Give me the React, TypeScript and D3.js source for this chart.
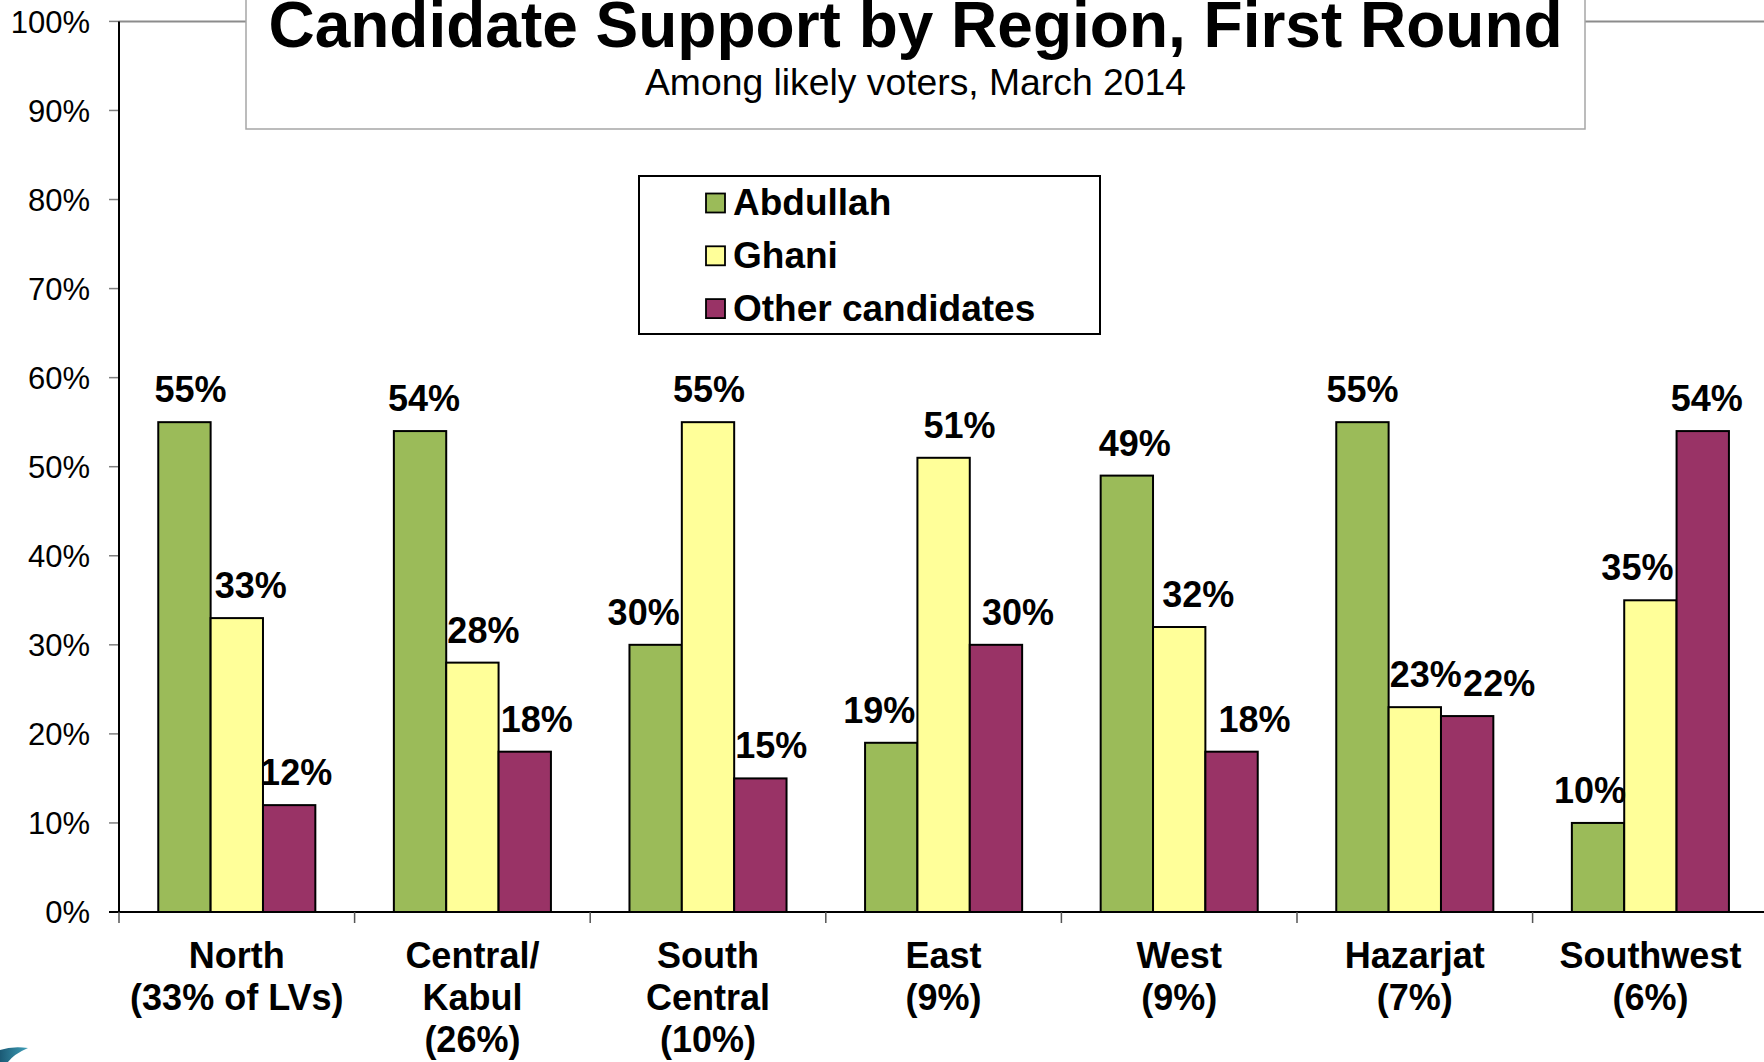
import React from "react";
import * as d3 from "d3";

const categories = ["North", "Central/Kabul", "South Central", "East", "West", "Hazarjat", "Southwest"];
const categoryLines = [
  ["North", "(33% of LVs)"],
  ["Central/", "Kabul", "(26%)"],
  ["South", "Central", "(10%)"],
  ["East", "(9%)"],
  ["West", "(9%)"],
  ["Hazarjat", "(7%)"],
  ["Southwest", "(6%)"],
];
const seriesNames = ["Abdullah", "Ghani", "Other candidates"];
const abdullah = [55, 54, 30, 19, 49, 55, 10];
const ghani = [33, 28, 55, 51, 32, 23, 35];
const other = [12, 18, 15, 30, 18, 22, 54];
const yTicks = [0, 10, 20, 30, 40, 50, 60, 70, 80, 90, 100];
const title = "Candidate Support by Region, First Round";
const subtitle = "Among likely voters, March 2014";

// horizontal nudges of the hand-placed value labels (px), per series
const labelNudge = [
  [6, 4, -12, -12, 8, 0, -8],
  [14, 11, 1, 16, 19, 11, -13],
  [7, 12, 11, 22, 23, 32, 4],
];

const colors = ["#9BBB59", "#FFFF99", "#993366"];
const FONT = "'Liberation Sans', Arial, Helvetica, sans-serif";

export default function App() {
  const W = 1764;
  const H = 1062;
  const left = 119;
  const right = 119 + 7 * 235.6;
  const yTop = 21.4;
  const yBase = 912;

  const x = d3.scaleBand<string>().domain(categories).range([left, right]).paddingInner(0).paddingOuter(0);
  const xs = d3.scaleBand<string>().domain(seriesNames).range([0, x.bandwidth()]).paddingInner(0).paddingOuter(0.75);
  const y = d3.scaleLinear().domain([0, 100]).range([yBase, yTop]);
  const series = [abdullah, ghani, other];

  return (
    <svg
      width={W}
      height={H}
      style={{ position: "absolute", left: 0, top: 0, display: "block", background: "#fff" }}
      fontFamily={FONT}
    >
      <rect x={0} y={0} width={W} height={H} fill="#fff" />
      {/* top plot border at 100% */}
      <line x1={left} x2={W} y1={y(100)} y2={y(100)} stroke="#8c8c8c" strokeWidth={2} />

      {/* y ticks and labels */}
      {yTicks.map((t) => (
        <g key={t}>
          <line x1={left - 10} x2={left} y1={y(t)} y2={y(t)} stroke="#7f7f7f" strokeWidth={1.5} />
          <text x={90} y={y(t)} dy="0.36em" textAnchor="end" fontSize={31} fill="#000">
            {t}%
          </text>
        </g>
      ))}

      {/* bars */}
      {series.map((vals, si) =>
        vals.map((v, ci) => (
          <rect
            key={`${si}-${ci}`}
            x={(x(categories[ci]) as number) + (xs(seriesNames[si]) as number)}
            y={y(v)}
            width={xs.bandwidth()}
            height={yBase - y(v)}
            fill={colors[si]}
            stroke="#000"
            strokeWidth={2}
          />
        ))
      )}

      {/* value labels */}
      {series.map((vals, si) =>
        vals.map((v, ci) => (
          <text
            key={`l-${si}-${ci}`}
            x={(x(categories[ci]) as number) + (xs(seriesNames[si]) as number) + xs.bandwidth() / 2 + labelNudge[si][ci]}
            y={y(v) - 20}
            textAnchor="middle"
            fontSize={36}
            fontWeight="bold"
            fill="#000"
          >
            {v}%
          </text>
        ))
      )}

      {/* axes */}
      <line x1={left} x2={left} y1={y(100)} y2={yBase} stroke="#000" strokeWidth={2} />
      <line x1={left - 10} x2={W} y1={yBase} y2={yBase} stroke="#000" strokeWidth={2} />
      {d3.range(categories.length + 1).map((i) => (
        <line
          key={`xt-${i}`}
          x1={left + i * x.step()}
          x2={left + i * x.step()}
          y1={yBase}
          y2={yBase + 11}
          stroke="#555"
          strokeWidth={1.5}
        />
      ))}

      {/* category labels */}
      {categoryLines.map((lines, ci) => (
        <text
          key={`c-${ci}`}
          x={(x(categories[ci]) as number) + x.bandwidth() / 2}
          y={968}
          textAnchor="middle"
          fontSize={36}
          fontWeight="bold"
          fill="#000"
        >
          {lines.map((ln, li) => (
            <tspan key={li} x={(x(categories[ci]) as number) + x.bandwidth() / 2} y={968 + li * 42}>
              {ln}
            </tspan>
          ))}
        </text>
      ))}

      {/* title box */}
      <rect x={246} y={-10} width={1339} height={139} fill="#fff" stroke="#a6a6a6" strokeWidth={1.5} />
      <text x={915.5} y={47} textAnchor="middle" fontSize={64} fontWeight="bold" fill="#000">
        {title}
      </text>
      <text x={915.5} y={95} textAnchor="middle" fontSize={37.3} fill="#000">
        {subtitle}
      </text>

      {/* legend */}
      <rect x={639} y={176} width={461} height={158} fill="#fff" stroke="#000" strokeWidth={2} />
      {seriesNames.map((s, i) => (
        <g key={s}>
          <rect x={706} y={193.5 + i * 52.8} width={19} height={19} fill={colors[i]} stroke="#000" strokeWidth={1.8} />
          <text x={733} y={202 + i * 52.8} dy="0.36em" fontSize={37} fontWeight="bold" fill="#000">
            {s}
          </text>
        </g>
      ))}

      {/* slide decoration, bottom-left */}
      <defs>
        <linearGradient id="swoosh" x1="0" y1="0" x2="1" y2="0">
          <stop offset="0" stopColor="#1b5a75" />
          <stop offset="1" stopColor="#3f9fb8" />
        </linearGradient>
      </defs>
      <path d="M0,1062 L0,1050 Q12,1046 28,1048 Q14,1054 8,1062 Z" fill="url(#swoosh)" />
    </svg>
  );
}
